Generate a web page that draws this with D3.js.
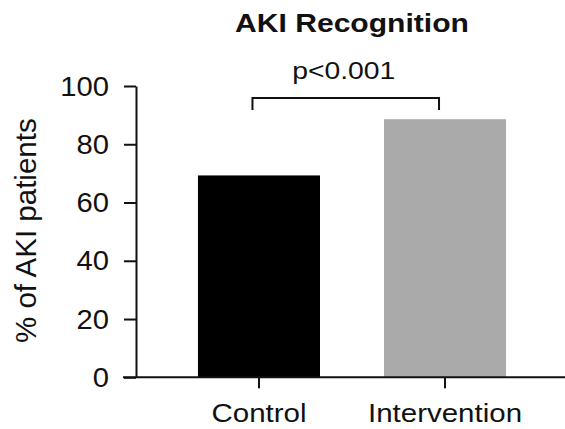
<!DOCTYPE html>
<html>
<head>
<meta charset="utf-8">
<script src="https://cdn.jsdelivr.net/npm/d3@7"></script>
<style>
  body { margin: 0; background: #fff; }
  svg { display: block; font-family: "Liberation Sans", Arial, sans-serif; }
</style>
</head>
<body>
<div id="chart"></div>
<script>
const categories = ["Control", "Intervention"];
const values = [69.3, 88.6];
const barColors = ["#000000", "#aaaaaa"];
const yTicks = [0, 20, 40, 60, 80, 100];
const pLabel = "p<0.001";

const W = 565, H = 429;
const margin = { top: 86, right: 0, bottom: 52, left: 136 };

const svg = d3.select("#chart").append("svg")
  .attr("width", W)
  .attr("height", H);

// the original text is a bit wider than Arial, so stretch it sideways
function stretch(sel, sx) {
  sel.each(function() {
    const t = d3.select(this);
    const x0 = +t.attr("x") || 0;
    t.attr("x", x0 / sx).attr("transform", `scale(${sx},1)`);
  });
}

const x = d3.scaleBand()
  .domain(categories)
  .range([margin.left, 568])
  .paddingInner(0.344)
  .paddingOuter(0.333);

const y = d3.scaleLinear()
  .domain([0, 100])
  .range([H - margin.bottom + 0.3, margin.top]);

// bars
svg.selectAll("rect.bar")
  .data(categories)
  .enter().append("rect")
  .attr("class", "bar")
  .attr("x", d => x(d))
  .attr("y", (d, i) => y(values[i]))
  .attr("width", x.bandwidth())
  .attr("height", (d, i) => y(0) - y(values[i]))
  .attr("fill", (d, i) => barColors[i]);

// y axis
const yAxis = svg.append("g")
  .attr("transform", `translate(${margin.left},0)`)
  .call(d3.axisLeft(y).tickValues(yTicks).tickSize(12).tickSizeOuter(0).tickPadding(15));
yAxis.select(".domain").attr("stroke", "#111").attr("stroke-width", 2);
yAxis.selectAll(".tick line").attr("stroke", "#111").attr("stroke-width", 2);
yAxis.selectAll("text")
  .attr("font-size", 27)
  .attr("fill", "#111")
  .attr("dy", "0.34em")
  .attr("font-family", "Liberation Sans, Arial, sans-serif")
  .call(stretch, 1.08);

// x axis
const xAxis = svg.append("g")
  .attr("transform", `translate(0,${y(0)})`)
  .call(d3.axisBottom(x).tickSize(11).tickSizeOuter(0).tickPadding(16));
xAxis.select(".domain")
  .attr("d", `M${margin.left - 13},0H${W + 5}`)
  .attr("stroke", "#111").attr("stroke-width", 2);
xAxis.selectAll(".tick line").attr("stroke", "#111").attr("stroke-width", 2);
xAxis.selectAll("text")
  .attr("font-size", 25)
  .attr("fill", "#111")
  .attr("font-family", "Liberation Sans, Arial, sans-serif")
  .call(stretch, 1.18);

// y label
svg.append("text")
  .attr("transform", `translate(36,${(y(0) + y(100)) / 2 - 1}) rotate(-90)`)
  .attr("text-anchor", "middle")
  .attr("font-size", 29.5)
  .attr("fill", "#111")
  .text("% of AKI patients");

// title
svg.append("text")
  .attr("x", 352)
  .attr("y", 32)
  .attr("text-anchor", "middle")
  .attr("font-size", 25.5)
  .attr("font-weight", "bold")
  .attr("fill", "#111")
  .text("AKI Recognition")
  .call(stretch, 1.18);

// significance bracket
const bx0 = x(categories[0]) + x.bandwidth() / 2 - 6.5;
const bx1 = x(categories[1]) + x.bandwidth() / 2 - 6;
const by = y(100) + 12;
svg.append("path")
  .attr("d", `M${bx0},${by + 12}V${by}H${bx1}V${by + 12}`)
  .attr("fill", "none")
  .attr("stroke", "#111")
  .attr("stroke-width", 2);

svg.append("text")
  .attr("x", (bx0 + bx1) / 2 - 2)
  .attr("y", by - 19)
  .attr("text-anchor", "middle")
  .attr("font-size", 24)
  .attr("fill", "#111")
  .text(pLabel)
  .call(stretch, 1.18);
</script>
</body>
</html>
